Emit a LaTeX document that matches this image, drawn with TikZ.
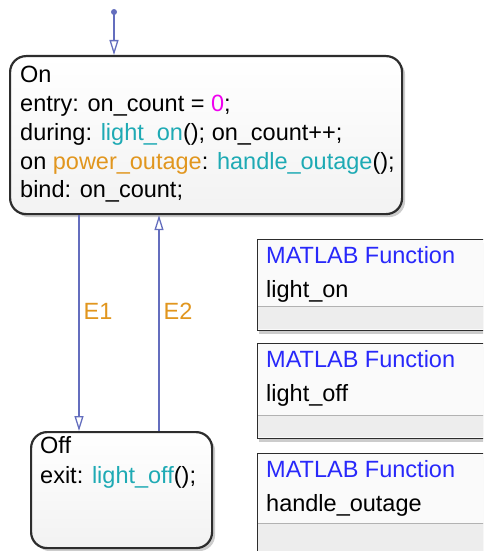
\documentclass[tikz,border=0pt]{standalone}
\usepackage{fontspec}
\setmainfont{Liberation Sans}
\usetikzlibrary{arrows.meta,positioning,shadows}

\definecolor{trblue}{RGB}{100,110,190}
\definecolor{edgegray}{RGB}{45,45,45}
\definecolor{evorange}{RGB}{225,150,30}
\definecolor{fncyan}{RGB}{30,170,180}
\definecolor{nummag}{RGB}{240,0,240}
\definecolor{mlblue}{RGB}{40,40,250}

\tikzset{
  statebox/.style={draw=edgegray, line width=2.2pt, rounded corners=16pt,
    top color=white, bottom color=black!5, inner sep=0pt, anchor=north west,
    drop shadow={opacity=.4, shadow xshift=3pt, shadow yshift=-3pt}},
  fcnbox/.style={draw=edgegray, line width=1.4pt, fill=black!2, inner sep=0pt,
    anchor=north west, minimum width=250pt,
    drop shadow={opacity=.4, shadow xshift=1.5pt, shadow yshift=-3pt}},
  trans/.style={draw=trblue, line width=1.3pt,
    -{Triangle[open, length=15pt, width=9pt, line width=1.3pt]}},
  txt/.style={anchor=base west, inner sep=0pt},
  trlabel/.style={text=evorange, anchor=west, inner sep=0pt, xshift=4pt}
}

\begin{document}
\begin{tikzpicture}[x=1pt, y=-1pt, font=\fontsize{23.5pt}{28pt}\selectfont]

\useasboundingbox (0,0) rectangle (483,551);
\clip (0,0) rectangle (483,551);

% states
\node[statebox, minimum width=392pt, minimum height=158pt] (on) at (9,55) {};
\node[statebox, minimum width=181pt, minimum height=116pt] (off) at (30,431) {};

\node[txt] (ontitle) at (20,82) {On};
\node[txt] (onentry) at (20,111) {entry: on\_count = \textcolor{nummag}{0};};
\node[txt] (onduring) at (20,140) {during: \textcolor{fncyan}{light\_on}(); on\_count++;};
\node[txt] (onevent) at (20,169) {on \textcolor{evorange}{power\_outage}: \textcolor{fncyan}{handle\_outage}();};
\node[txt] (onbind) at (20,197) {bind: on\_count;};

\node[txt] (offtitle) at (40,453) {Off};
\node[txt] (offexit) at (40,483) {exit: \textcolor{fncyan}{light\_off}();};

% default transition
\coordinate (init) at (114,12);
\fill[trblue] (init) circle (3pt);
\draw[trans] (init) -- (on.north -| init);

% transitions between states
\draw[trans] ([xshift=49pt]off.north west |- on.south) -- node[trlabel, pos=0.445] (e1) {E1} ([xshift=49pt]off.north west);
\draw[trans] ([xshift=129pt]off.north west) -- node[trlabel, pos=0.555] (e2) {E2} ([xshift=129pt]off.north west |- on.south);

% graphical functions
\foreach \fid/\ftop/\fsep/\fbot/\fname in {fcnon/239/306/330/light\_on, fcnoff/343/415/438/light\_off, fcnout/453/523/560/handle\_outage} {
  \node[fcnbox, minimum height={(\fbot-\ftop)*1pt}] (\fid) at (257,\ftop) {};
  \fill[black!7] (258,\fsep) rectangle (495,{\fbot-1});
  \draw[black!30, line width=0.8pt] (258,\fsep) -- (495,\fsep);
  \node[txt, text=mlblue] (\fid-hd) at (266,{\ftop+24}) {MATLAB Function};
  \node[txt] (\fid-nm) at (266,{\ftop+58}) {\fname};
}

\end{tikzpicture}
\end{document}
